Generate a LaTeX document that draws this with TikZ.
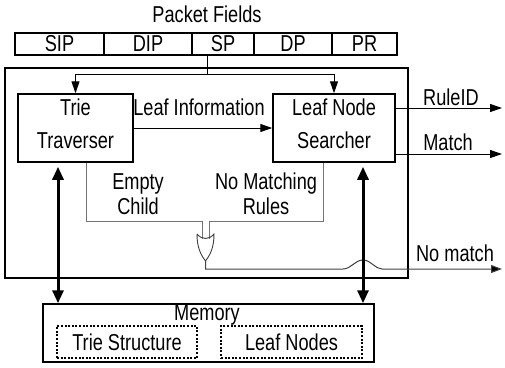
\documentclass[tikz,border=0pt]{standalone}
\usepackage{fontspec}
\setmainfont{Liberation Sans}[FakeStretch=0.79]
\usetikzlibrary{arrows.meta,calc}
\begin{document}
\begin{tikzpicture}[x=1pt,y=-1pt,
  txt/.style={font=\fontsize{23}{26}\selectfont, inner sep=0pt},
  box/.style={draw, line width=1.5pt, inner sep=0pt, txt},
  cell/.style={draw, line width=1.5pt, minimum height=22pt, inner sep=0pt, txt},
  dbox/.style={draw, line width=1.2pt, dash pattern=on 2pt off 1.6pt, inner sep=0pt, minimum height=32pt, txt},
  arr/.style={-{Triangle[length=12pt,width=8pt]}, line width=1pt},
  thickarr/.style={{Triangle[length=13pt,width=11pt]}-{Triangle[length=13pt,width=11pt]}, line width=3pt},
  sig/.style={draw=black!55, line width=1pt}]
\useasboundingbox (0,0) rectangle (505,367);

% packet fields
\node[txt] (pf) at (207,14) {Packet Fields};
\node[cell, minimum width=89pt] (sip) at (59.5,44) {SIP};
\node[cell, minimum width=88pt] (dip) at (148,44) {DIP};
\node[cell, minimum width=62pt] (sp) at (223,44) {SP};
\node[cell, minimum width=78pt] (dp) at (293,44) {DP};
\node[cell, minimum width=65pt] (pr) at (364.5,44) {PR};

% processing box
\node[draw, line width=1.5pt, minimum width=403pt, minimum height=210pt, inner sep=0pt] (proc) at (206.5,173) {};

\node[box, minimum width=115pt, minimum height=68pt, align=center, font=\fontsize{23}{33}\selectfont, text depth=8pt] (trie) at (75.5,128) {Trie\\Traverser};
\node[box, minimum width=122pt, minimum height=68pt, align=center, font=\fontsize{23}{33}\selectfont, text depth=8pt] (leaf) at (334,128) {Leaf Node\\Searcher};

% distribution of fields
\coordinate (split) at (207,74);
\draw[line width=1pt] (sp.south -| split) -- (split);
\draw[arr] (split) -| (trie.north);
\draw[arr] (split) -| (leaf.north);

% leaf information
\draw[arr] (trie.east) -- (leaf.west);
\node[txt] (li) at (199,107) {Leaf Information};

% outputs
\coordinate (rid) at (502,108);
\coordinate (mt) at (502,154);
\draw[arr] (leaf.east |- rid) -- (rid);
\draw[arr] (leaf.east |- mt) -- (mt);
\node[txt] (ridl) at (451,97) {RuleID};
\node[txt] (mtl) at (448,142) {Match};

% failure signals
\node[txt, align=center, font=\fontsize{23}{25}\selectfont] (ec) at (138,194) {Empty\\Child};
\node[txt, align=center, font=\fontsize{23}{25}\selectfont] (nm) at (266,194) {No Matching\\Rules};
\coordinate (ecb) at (86,221);
\coordinate (nmb) at (323,221);
\coordinate (gin1) at (202,238.5);
\coordinate (gin2) at (209,238.5);
\draw[sig] (trie.south -| ecb) -- (ecb) -| (gin1);
\draw[sig] (leaf.south -| nmb) -- (nmb) -| (gin2);

% OR gate
\coordinate (gout) at (205.5,261);
\draw[line width=0.9pt, black!75] (197,234) .. controls (202,240) and (209,240) .. (214,234)
  .. controls (214,248) and (210,255) .. (gout)
  .. controls (201,255) and (197,248) .. (197,234);

% no match output with jump
\coordinate (nmc) at (205.5,269);
\coordinate (nmend) at (502,269);
\draw[line width=1pt, black!75, -{Triangle[length=11pt,width=8pt,fill=black]}] (gout) -- (nmc) -- (343,269)
  .. controls (351,269) and (355,260) .. (363,260)
  .. controls (371,260) and (375,269) .. (382,269) -- (nmend);
\node[txt] (nml) at (455,253) {No match};

% memory
\node[draw, line width=1.5pt, minimum width=331pt, minimum height=58pt, inner sep=0pt] (mem) at (208.5,333) {};
\node[txt] (meml) at (207,315) {Memory};
\node[dbox, minimum width=140pt] (ts) at (127,342) {Trie Structure};
\node[dbox, minimum width=141pt] (ln) at (291.5,342) {Leaf Nodes};

% memory access
\coordinate (lx) at (58,0);
\coordinate (rx) at (363,0);
\draw[thickarr, shorten <=4pt] (lx |- trie.south) -- (lx |- mem.north);
\draw[thickarr, shorten <=4pt] (rx |- leaf.south) -- (rx |- mem.north);
\end{tikzpicture}
\end{document}
